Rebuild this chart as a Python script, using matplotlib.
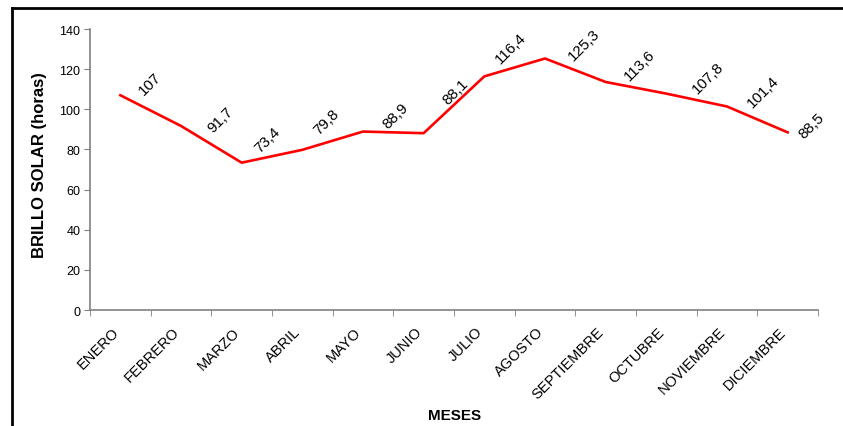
import matplotlib
matplotlib.use("Agg")
import matplotlib.pyplot as plt
from matplotlib.lines import Line2D
from matplotlib.transforms import ScaledTranslation

plt.rcParams['font.family'] = ['Liberation Sans', 'DejaVu Sans']

meses = ['ENERO', 'FEBRERO', 'MARZO', 'ABRIL', 'MAYO', 'JUNIO', 'JULIO',
         'AGOSTO', 'SEPTIEMBRE', 'OCTUBRE', 'NOVIEMBRE', 'DICIEMBRE']
brillo = [107, 91.7, 73.4, 79.8, 88.9, 88.1, 116.4, 125.3, 113.6, 107.8, 101.4, 88.5]

# desplazamiento (px) del centro de cada etiqueta respecto a su punto
desp = [(30, 12), (39, 7), (26, 23), (24, 29), (33, 16), (32, 42),
        (26, 29), (39, 14), (34, 17), (42, 16), (36, 15), (24, 7)]

fig = plt.figure(figsize=(8.43, 4.27), dpi=100)
ax = fig.add_axes([90 / 843, 1 - 311 / 427, 728 / 843, 281 / 427])

x = list(range(len(meses)))
ax.plot(x, brillo, color='#ff0000', linewidth=1.9)

# etiquetas de valor con coma decimal
for xi, v, (dx, dy) in zip(x, brillo, desp):
    txt = f'{v:g}'.replace('.', ',')
    ax.annotate(txt, (xi, v), xytext=(dx, dy), textcoords='offset pixels',
                rotation=45, ha='center', va='center', fontsize=11)

ax.set_xlim(-0.5, len(meses) - 0.5)
ax.set_ylim(0, 140)
ax.set_yticks(range(0, 141, 20))
ax.set_xticks(x)
ax.set_xticklabels(meses, rotation=45, ha='right', va='top',
                   rotation_mode='anchor', fontsize=10.5)
ax.set_xticks([i - 0.5 for i in range(len(meses) + 1)], minor=True)
ax.tick_params(axis='x', which='major', length=0, pad=6)
ax.tick_params(axis='x', which='minor', length=4, color='#808080')
ax.tick_params(axis='y', length=4, color='#808080', labelsize=9, pad=3)

corr = ScaledTranslation(-9 / 100, -6 / 100, fig.dpi_scale_trans)
for lab in ax.get_xticklabels():
    lab.set_transform(lab.get_transform() + corr)

for s in ['top', 'right']:
    ax.spines[s].set_visible(False)
for s in ['left', 'bottom']:
    ax.spines[s].set_color('#808080')
    ax.spines[s].set_linewidth(1.2)

ax.set_ylabel('BRILLO SOLAR (horas)', fontsize=12, fontweight='bold')
ax.yaxis.set_label_coords(-43 / 728, 0.52)
fig.text(455 / 843, 1 - 416 / 427, 'MESES', fontsize=11, fontweight='bold',
         ha='center', va='center')

# marco exterior (izquierda y arriba)
fig.add_artist(Line2D([12 / 843, 12 / 843], [0, 1 - 9 / 427], color='black',
                      linewidth=2, transform=fig.transFigure))
fig.add_artist(Line2D([12 / 843, 1], [1 - 9 / 427, 1 - 9 / 427], color='black',
                      linewidth=2, transform=fig.transFigure))

fig.savefig('out.png', dpi=100)
